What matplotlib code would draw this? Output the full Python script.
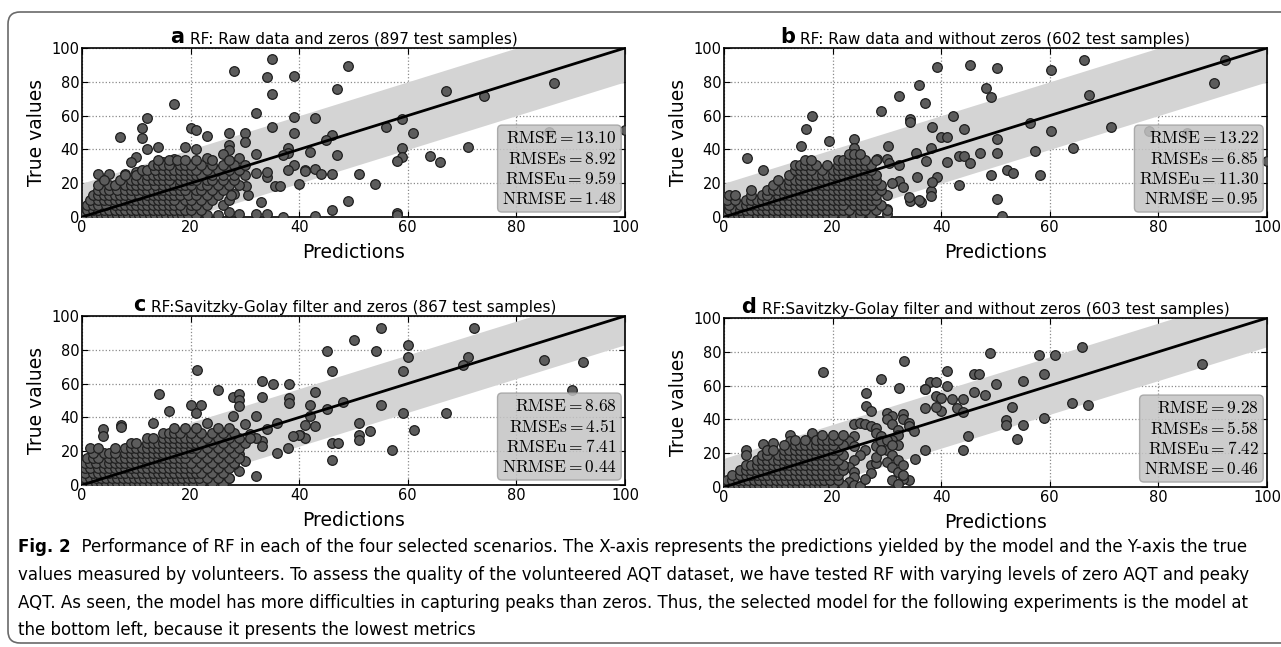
import numpy as np
import matplotlib.pyplot as plt
from matplotlib.patches import FancyBboxPatch
from matplotlib.transforms import IdentityTransform

plt.rcParams["mathtext.fontset"] = "cm"

# ---- data ----
letters = ["a", "b", "c", "d"]
titles = [
    "RF: Raw data and zeros (897 test samples)",
    "RF: Raw data and without zeros (602 test samples)",
    "RF:Savitzky-Golay filter and zeros (867 test samples)",
    "RF:Savitzky-Golay filter and without zeros (603 test samples)",
]
rmse = ["13.10", "13.22", "8.68", "9.28"]
rmses = ["8.92", "6.85", "4.51", "5.58"]
rmseu = ["9.59", "11.30", "7.41", "7.42"]
nrmse = ["1.48", "0.95", "0.44", "0.46"]
band_half = [20, 20, 17, 17]
ident = [0, 100]
ticks = [0, 20, 40, 60, 80, 100]

# scattered points (prediction, true)
sparse_a = [(35, 93.5), (28, 86.6), (34, 82.6), (39, 83.6), (35, 72.8), (17, 66.7), (32, 61.7),
            (12, 58.4), (39, 59.4), (43, 58.6), (11, 52.5), (20, 52.5), (21, 51.5), (7, 47.5),
            (11, 46.5), (23, 48.1), (27, 49.5), (30, 49.5), (30, 44.6), (35, 53.5), (39, 49.5),
            (12, 40.2), (14, 41.6), (27, 42.6), (27, 39.6), (32, 37.1), (19, 41.6), (21, 40.2),
            (38, 40.6), (38, 37.7), (42, 38.7), (10, 35.7), (9, 32.7), (15, 32.7), (17, 34.1),
            (23, 34.7), (26, 37.3), (29, 34.7), (37, 36.7), (39, 30.8), (41, 27.8), (38, 27.8),
            (40, 19.5), (35.5, 18.5), (36.5, 18.5), (34, 23.9), (34, 26.8), (32, 26.2), (3, 25.4),
            (5, 25.4), (8, 25.4), (10, 26.8), (33, 8.7), (28, 13.4), (27, 3.2), (29, 1.6),
            (32, 1.8), (34, 1.6), (37, 0.2), (30.6, 13.0), (30.2, 18.5), (49, 89.5), (47, 75.5),
            (67, 74.6), (74, 71.8), (87, 79.5), (56, 53.4), (59, 57.8), (61, 49.5), (46, 48.3),
            (45, 45.6), (47, 36.7), (59, 40.6), (59, 35.3), (58, 33.3), (64, 35.9), (66, 32.6),
            (71, 41.6), (86, 50.5), (100, 51.5), (41, 27.2), (43, 28.4), (44, 25.4), (46, 25.4),
            (51, 25.4), (54, 19.5), (49, 9.3), (46, 4.1), (43, 0.5), (58, 2.2), (58, 1.0)]
sparse_b = [(39.2, 89), (36, 78.1), (32.2, 71.8), (37, 67.3), (29, 62.9), (34.2, 57.7), (34.2, 56.1),
            (16.2, 59.8), (15.1, 51.9), (42.2, 59.8), (38.3, 53.1), (19.3, 45), (14.2, 42),
            (24, 46.3), (23.9, 40.8), (30.2, 42), (4.2, 34.7), (7.2, 27.8), (40, 47.3), (41, 47.3),
            (35.4, 37.7), (32.2, 30.8), (35.6, 23.9), (36.3, 8.8), (34.2, 9.5), (32.2, 21.5),
            (38.1, 15.2), (38.1, 12.6), (39.2, 23.9), (38.3, 21), (41.1, 32.7), (37.2, 33.1),
            (38.1, 40.6), (28.2, 34.3), (30.1, 34.3), (30.4, 31.8), (0, 12), (45.3, 89.9),
            (50.3, 88), (60.3, 87), (66.3, 92.9), (92.3, 92.9), (90.3, 79), (48.3, 76.2),
            (49.2, 70.9), (67.3, 72.3), (56.3, 55.8), (44.2, 51.9), (60.3, 50.9), (71.3, 53.1),
            (78.3, 50.9), (85.3, 49.9), (50.3, 46), (50.3, 37.7), (47.2, 37.7), (43.2, 36.1),
            (44.2, 36.1), (45.3, 31.8), (57.3, 39), (64.3, 41), (49.2, 25), (52.2, 27.8),
            (53.2, 25.9), (58.2, 24.9), (43.2, 19), (50.3, 10.7), (51.2, 0.5), (100, 33),
            (86.5, 13.5), (33, 18), (31, 20), (34, 12), (36, 10), (30, 5), (30, 2)]
sparse_c = [(55.1, 92.9), (72.1, 92.9), (50.1, 86), (45.1, 79.1), (54.1, 79.1), (60.1, 83),
            (60.1, 75.8), (46, 67.3), (59.2, 67.3), (71.1, 75.8), (70.1, 70.8), (85.1, 73.8),
            (92.2, 72.6), (90.2, 56.1), (43, 54.8), (42, 47.5), (42, 40.6), (45.1, 45), (48, 48.9),
            (55.1, 47.5), (59.2, 42.6), (67.1, 42.6), (41.1, 35.7), (43, 34.7), (40.1, 29.8),
            (41.1, 27.8), (51.1, 36.7), (51.1, 29.8), (51.1, 26.9), (53.1, 31.8), (61.1, 32.7),
            (46.1, 25), (47.1, 25), (57.1, 20.5), (46.1, 14.6), (21.1, 67.8), (14.1, 53.8),
            (33.1, 61.7), (35.1, 59.8), (38.1, 59.8), (38.1, 51.5), (38.1, 48.5), (33.1, 51.9),
            (25, 56.1), (27.9, 51.9), (29, 53.8), (29, 50.5), (29, 46.5), (20.1, 47.1), (22, 47.1),
            (21, 42.6), (16, 44), (13, 36.7), (7.1, 35.7), (7.1, 34.3), (3.9, 33), (3.9, 29),
            (23.1, 36.7), (27.9, 41.1), (32, 40.6), (36, 36.7), (39.9, 29.8), (38.9, 28.8),
            (36, 18.7), (38, 22), (29, 8.2), (32, 5.5), (33.1, 26), (33.1, 23), (29, 18.5),
            (28, 12.5), (30, 14), (27, 4), (25, 2), (22, 0.5), (26, 0.5), (31, 30), (34, 33),
            (30, 36), (32, 28)]
sparse_d = [(18.2, 67.9), (33.2, 74.8), (29, 63.9), (32.2, 58.3), (26.2, 55.7), (41.1, 68.9),
            (41.1, 59.7), (37.9, 61.9), (39.1, 61.9), (37.1, 57.8), (39, 53.8), (26.2, 48),
            (27.1, 44.9), (37.1, 46.6), (16.2, 30.9), (16.2, 32), (12.1, 30.5), (12.1, 27.5),
            (7.2, 25.4), (9.1, 25.9), (4.1, 22), (4.1, 19), (37.1, 21.8), (35.1, 16.4), (34.1, 4.4),
            (27.1, 13.2), (65.9, 82.9), (49, 79), (58, 78.1), (61, 78.1), (88, 73), (59, 66.7),
            (46, 66.7), (47, 66.7), (50, 60.8), (55, 62.6), (64, 49.6), (67, 48.6), (53, 47.6),
            (59, 40.7), (52, 39.9), (52, 36.7), (55, 36.7), (54, 28.4), (45, 30.4), (44, 21.9),
            (46, 56.3), (48, 54.4), (42, 51.8), (44, 51.8), (40, 52.4), (43, 46.6), (44, 44.6),
            (40, 44.8), (39, 47.2), (37, 58.1), (33, 5), (30, 44), (31, 42), (30, 40), (31, 37),
            (32, 34), (33, 43), (33, 40), (34, 38), (32, 31), (31, 28), (32, 25), (30, 22),
            (31, 19), (30, 15), (31, 12), (32, 9), (33, 7), (32, 16), (33, 13), (34, 36), (35, 33),
            (31, 4), (32, 2), (24, 37), (25, 38), (26, 37), (27, 36), (28, 35), (28, 32), (29, 30),
            (24, 30), (23, 27), (24, 24), (26, 22), (25, 19), (24, 16), (23, 12), (24, 9), (24, 6),
            (23, 3), (24, 1), (25, 0.5), (28, 14), (28, 18), (28, 24), (29, 27), (27, 8), (26, 5),
            (29, 22), (30, 28), (31, 25)]

# dense clusters near the origin, one row of predictions per true-value level
dense_a = [
    (1, [0.5, 1.5, 2.5, 3.5, 4.5, 5.5, 6.5, 7.5, 8.5, 9.5, 10.5, 11.5, 12.5, 13.5, 14.5, 15.5, 16.5, 17.5, 18.5, 19.5, 21, 23, 25]),
    (4, [1, 2, 3, 4, 5, 6, 7, 8, 9, 10, 11, 12, 13, 14, 15, 16, 17, 18, 19, 20, 22]),
    (7, [1, 2, 3, 4.5, 6, 7, 8, 9, 10, 11, 12, 13, 14, 15, 16, 17, 18, 20, 21, 23, 26]),
    (10, [1.5, 3, 4, 5, 6, 7, 8, 9, 10, 11, 12, 13, 14, 15, 16, 17, 19, 20, 22, 24, 27]),
    (13, [2, 3, 4, 5, 6, 7, 8, 9, 10.5, 12, 13, 14, 15, 16, 17, 18, 19.5, 21, 23, 25, 27.5]),
    (16, [3, 4, 5, 6.5, 8, 9, 10, 11, 12, 13, 14, 15, 16, 17, 18, 19, 21, 22, 24, 26]),
    (19, [3, 5, 6, 8, 9, 10, 11, 12, 13.5, 15, 16, 17, 18, 19, 20, 22, 23, 25, 27, 29]),
    (22, [4, 7, 9, 10, 11, 12, 13, 14, 15, 16, 18, 19, 20, 21, 23, 24, 26, 28]),
    (25, [8, 10, 12, 13, 14, 15, 16, 17, 18, 19, 20, 21, 22, 24, 26, 28, 30]),
    (28, [11, 12, 13.5, 15, 16, 17, 18, 19, 20, 21, 23, 25, 27, 29]),
    (31, [13, 14, 15, 16, 18, 19, 20, 22, 24, 26, 28, 30]),
    (34, [14, 16, 17.5, 19, 21, 24, 27]),
]
dense_b = [
    (1, [0.5, 1.5, 2.5, 3.5, 4.5, 6, 7, 8, 9, 10, 11, 12, 13, 14, 15, 16, 17, 18, 19, 20, 22, 24, 25, 27]),
    (4, [1, 2, 3, 4, 5, 6, 7, 8, 9, 10, 11, 12, 13, 14, 15, 16, 17, 18, 19, 20, 21, 22, 23, 25, 26, 28, 30]),
    (7, [1, 3, 4, 5, 6, 7, 8, 9, 10, 11, 12, 13, 14, 15, 16, 17, 18, 19, 20, 21, 22, 24, 25, 26, 27, 29]),
    (10, [0.5, 2, 4, 5, 6, 7, 8, 9, 10, 11, 12, 13, 14, 15, 16, 17, 18, 19, 20, 21, 22, 23, 24, 25, 26, 27, 28]),
    (13, [1, 2, 5, 7, 8, 10, 11, 12, 13, 14, 15, 16, 17, 18, 19, 20, 21, 22, 23, 24, 25, 26, 27, 28, 30]),
    (16, [5, 8, 9, 10, 11, 12, 13, 14, 15, 16, 17, 18, 19, 20, 21, 22, 23, 24, 25, 26, 27, 29]),
    (19, [9, 11, 12, 13, 14, 15, 16, 17, 18, 19, 20, 21, 22, 23, 24, 25, 26, 27, 28, 29]),
    (22, [10, 12, 13, 14, 15, 16, 17, 18, 19, 20, 21, 22, 23, 24, 25, 26, 27, 28]),
    (25, [12, 14, 15, 16, 17, 18, 19, 20, 21, 22, 23, 24, 25, 26, 27, 28]),
    (28, [13, 14, 15, 16, 18, 20, 21, 22, 23, 24, 25, 26, 27]),
    (31, [13, 14, 15, 16, 17, 19, 21, 22, 23, 24, 25, 26, 27]),
    (34, [15, 16, 21, 22, 23, 24, 25, 26, 28]),
    (37, [23, 24, 25]),
]
dense_c = [
    (1, [0.5, 1.5, 2.5, 3.5, 4.5, 5.5, 6.5, 7.5, 8.5, 9.5, 10.5, 11.5, 12.5, 13.5, 14.5, 15.5, 16.5, 17.5, 18.5, 19.5, 20.5, 22, 24]),
    (4, [0.5, 1.5, 2.5, 3.5, 4.5, 5.5, 6.5, 7.5, 8.5, 9.5, 10.5, 11.5, 12.5, 13.5, 14.5, 15.5, 16.5, 17.5, 18.5, 19.5, 20.5, 21.5, 23, 25, 27]),
    (7, [0.5, 2, 3, 4, 5, 6, 7, 8, 9, 10, 11, 12, 13, 14, 15, 16, 17, 18, 19, 20, 21, 22, 24, 26]),
    (10, [0.5, 1.5, 3, 4, 5, 6, 7, 8, 9, 10, 11, 12, 13, 14, 15, 16, 17, 18, 19, 20, 21, 23, 25, 27]),
    (13, [0.5, 1.5, 2.5, 4, 5, 6, 7, 8, 9, 10, 11, 12, 13, 14, 15, 16, 17, 18, 19, 20, 22, 24, 26, 28]),
    (16, [1, 2, 3, 5, 6, 7, 8, 9, 10, 11, 12, 13, 14, 15, 16, 17, 18, 19, 21, 23, 25, 27, 29]),
    (19, [2, 4, 5, 6, 8, 9, 10, 11, 12, 13, 14, 15, 16, 17, 18, 19, 20, 22, 24, 26, 28]),
    (22, [1.5, 3, 6, 8, 9, 10, 11, 12, 13, 14, 15, 16, 17, 18, 19, 20, 21, 23, 25, 27, 29]),
    (25, [9, 10, 12, 13, 14, 15, 16, 17, 18, 19, 20, 21, 22, 24, 26, 28, 30]),
    (28, [12, 13, 15, 16, 17, 18, 19, 20, 21, 23, 25, 27, 29, 31]),
    (31, [15, 16, 17, 18, 20, 22, 24, 26, 28]),
    (34, [17, 19, 21, 25, 27]),
]
dense_d = [
    (1, [0.5, 1.5, 2.5, 3.5, 4.5, 5.5, 6.5, 7.5, 8.5, 9.5, 10.5, 11.5, 12.5, 13.5, 14.5, 15.5, 16.5, 17.5, 18.5, 20, 22]),
    (4, [0.5, 1.5, 2.5, 3.5, 4.5, 5.5, 6.5, 7.5, 8.5, 9.5, 10.5, 11.5, 12.5, 13.5, 14.5, 15.5, 16.5, 17.5, 18.5, 19.5, 21]),
    (7, [1.5, 3, 4, 5, 6, 7, 8, 9, 10, 11, 12, 13, 14, 15, 16, 17, 18, 19, 20, 21]),
    (10, [3, 4, 5, 6, 7, 8, 9, 10, 11, 12, 13, 14, 15, 16, 17, 18, 19, 20, 21, 22]),
    (13, [4, 5, 6, 7, 8, 9, 10, 11, 12, 13, 14, 15, 16, 17, 18, 19, 20, 22]),
    (16, [6, 7, 8, 9, 10, 11, 12, 13, 14, 15, 16, 17, 18, 19, 20, 21]),
    (19, [7, 8, 10, 11, 12, 13, 14, 15, 16, 17, 18, 19, 20, 22]),
    (22, [8, 9, 11, 12, 13, 14, 15, 16, 17, 18, 19, 20, 21]),
    (25, [11, 13, 14, 15, 16, 17, 18, 19, 20, 22]),
    (28, [13, 15, 17, 18, 19, 20, 21]),
    (31, [18, 20, 22]),
]

caption_bold = "Fig. 2"
caption_lines = [
    "  Performance of RF in each of the four selected scenarios. The X-axis represents the predictions yielded by the model and the Y-axis the true",
    "values measured by volunteers. To assess the quality of the volunteered AQT dataset, we have tested RF with varying levels of zero AQT and peaky",
    "AQT. As seen, the model has more difficulties in capturing peaks than zeros. Thus, the selected model for the following experiments is the model at",
    "the bottom left, because it presents the lowest metrics",
]

sparse_all = [sparse_a, sparse_b, sparse_c, sparse_d]
dense_all = [dense_a, dense_b, dense_c, dense_d]

W, H = 1281, 647
fig = plt.figure(figsize=(W / 100, H / 100), dpi=100)

# outer rounded frame (open on the right, like the journal layout)
frame = FancyBboxPatch((8, 4), 1320, 631, boxstyle="round,pad=0,rounding_size=12",
                       transform=IdentityTransform(), fill=False, ec="#6a6a6a", lw=1.2)
fig.patches.append(frame)

# axes boxes in pixels: left, top
boxes = [(82, 48), (724, 48), (82, 316), (724, 318)]
aw, ah = 543, 169

for i in range(4):
    l, t = boxes[i]
    ax = fig.add_axes([l / W, 1 - (t + ah) / H, aw / W, ah / H])

    xs = [p[0] for p in sparse_all[i]]
    ys = [p[1] for p in sparse_all[i]]
    for yv, row in dense_all[i]:
        xs += row
        ys += [yv] * len(row)

    line = np.array(ident)
    ax.fill_between(line, line - band_half[i], line + band_half[i],
                    color="#d4d4d4", lw=0, zorder=1)
    ax.scatter(xs, ys, s=48, c="#5c5c5c", edgecolors="#1e1e1e", linewidths=0.9, zorder=3)
    ax.plot(line, line, color="black", lw=2, zorder=4)

    ax.set_xlim(0, 100)
    ax.set_ylim(0, 100)
    ax.set_xticks(ticks)
    ax.set_yticks(ticks)
    ax.tick_params(direction="in", top=True, right=True, labelsize=10.5, length=4, pad=2)
    ax.grid(True, linestyle=":", color="#8a8a8a", lw=0.9)
    ax.set_axisbelow(True)
    for s in ax.spines.values():
        s.set_linewidth(1.2)
    ax.set_xlabel("Predictions", fontsize=13.5, labelpad=6)
    ax.set_ylabel("True values", fontsize=13.5, labelpad=4)

    ttl = ax.set_title(titles[i], fontsize=11, pad=3)
    ax.annotate(letters[i], xy=(0, 0), xycoords=ttl, xytext=(-4, 0),
                textcoords="offset points", ha="right", va="bottom",
                fontsize=15, fontweight="bold")

    txt = "\n".join([
        r"$\mathrm{RMSE} = %s$" % rmse[i],
        r"$\mathrm{RMSEs} = %s$" % rmses[i],
        r"$\mathrm{RMSEu} = %s$" % rmseu[i],
        r"$\mathrm{NRMSE} = %s$" % nrmse[i],
    ])
    ax.text(0.985, 0.055, txt, transform=ax.transAxes, ha="right", va="bottom",
            multialignment="right", fontsize=12.5, linespacing=1.15, zorder=6,
            bbox=dict(boxstyle="round,pad=0.25", fc="#c4c4c4", ec="#a0a0a0", alpha=0.85))

# caption under the panels
ys_cap = [547, 575, 603, 630]
bold = fig.text(18 / W, 1 - ys_cap[0] / H, caption_bold, fontsize=12, fontweight="bold",
                va="center", ha="left")
fig.axes[0].annotate(caption_lines[0], xy=(1, 0), xycoords=bold, ha="left", va="bottom",
                     fontsize=12, annotation_clip=False)
for k in range(1, 4):
    fig.text(18 / W, 1 - ys_cap[k] / H, caption_lines[k], fontsize=12, va="center", ha="left")

fig.savefig("out.png", dpi=100)
